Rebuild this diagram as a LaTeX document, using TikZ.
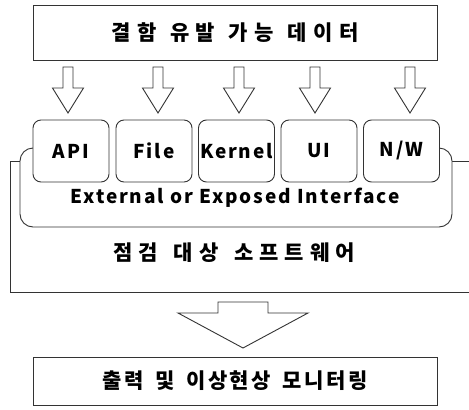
\documentclass[tikz,border=0pt]{standalone}
\usepackage{fontspec}
\setmainfont{Noto Sans CJK KR}
\newfontfamily\datafont{Noto Sans CJK KR}[LetterSpace=31,WordSpace=1.2]
\newfontfamily\targetfont{Noto Sans CJK KR}[LetterSpace=28,WordSpace=1.5]
\newfontfamily\monfont{Noto Sans CJK KR}[LetterSpace=12,WordSpace=1.6]
\newfontfamily\latfont{Noto Sans CJK KR}[LetterSpace=10]
\usetikzlibrary{positioning}

% hollow block arrow pointing down: x, y top, y head, y tip, half shaft, half head
\newcommand{\hollowdown}[6]{%
	\draw[arrowline] (#1-#5,#2) -- (#1+#5,#2) -- (#1+#5,#3) -- (#1+#6,#3) -- (#1,#4) -- (#1-#6,#3) -- (#1-#5,#3) -- cycle;}

\begin{document}
\begin{tikzpicture}[x=1pt,y=-1pt,
		line/.style={draw=black!80,line width=0.9pt},
		arrowline/.style={line,fill=white,line join=miter},
		titlebox/.style={line,fill=white,minimum width=404pt,inner sep=0pt},
		ifbox/.style={line,fill=white,rounded corners=8pt,minimum width=76pt,minimum height=62pt,inner sep=0pt,font=\latfont\fontsize{19}{19}\selectfont\bfseries},
		label/.style={inner sep=0pt}]
	\useasboundingbox (0,0) rectangle (469,410);
	
	\node[titlebox,minimum height=55pt,font=\datafont\fontsize{21}{21}\selectfont\bfseries] (data) at (235,33){결함 유발 가능 데이터};
	
	\hollowdown{68}{67}{88}{113}{5}{15.5}
	\hollowdown{158}{67}{88}{113}{5}{15.5}
	\hollowdown{239}{67}{88}{113}{5}{15.5}
	\hollowdown{315}{67}{88}{113}{5}{15.5}
	\hollowdown{410}{67}{88}{113}{5}{15.5}
	
	% target software
	\draw[line] (469,161) -- (10,161) -- (10,292) -- (469,292);
	\draw[line,fill=white,rounded corners=13pt] (33,148) -- (20,148) -- (20,227) -- (452,227) -- (452,148) -- (440,148);
	
	\node[ifbox] (api) at (71,151){API};
	\node[ifbox] (file) at (154,151){File};
	\node[ifbox] (kernel) at (236.5,151){Kernel};
	\node[ifbox] (ui) at (319,151){UI};
	\node[ifbox] (nw) at (401.5,151){N/W};
	
	\node[label,font=\latfont\fontsize{19}{19}\selectfont\bfseries] (iface) at (235,198){External or Exposed Interface};
	\node[label,font=\targetfont\fontsize{21}{21}\selectfont\bfseries] (target) at (234,253){점검 대상 소프트웨어};
	
	\hollowdown{243}{302}{313}{348}{25}{65}
	
	\node[titlebox,minimum height=48pt,font=\monfont\fontsize{21}{21}\selectfont\bfseries] (monitor) at (235,381){출력 및 이상현상 모니터링};
\end{tikzpicture}
\end{document}
